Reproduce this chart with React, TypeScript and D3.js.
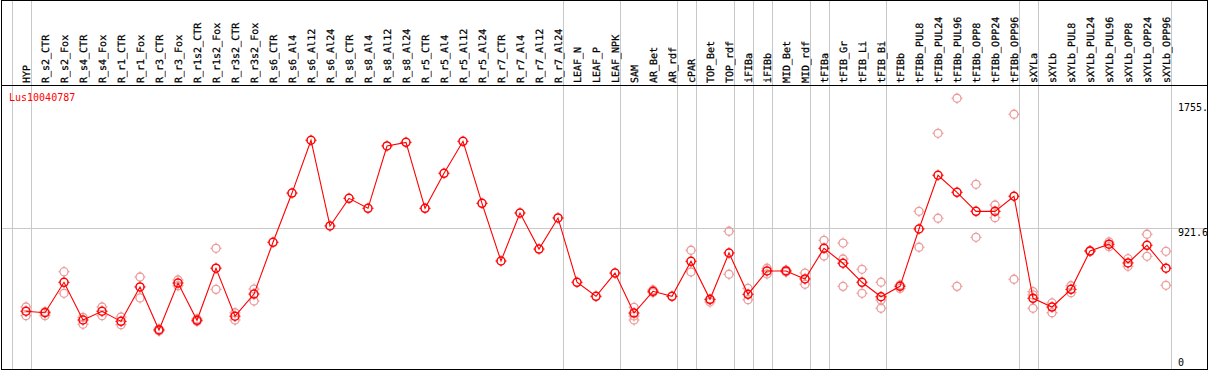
import React from "react";
import * as d3 from "d3";

const categories: string[] = [
  "HYP", "R_s2_CTR", "R_s2_Fox", "R_s4_CTR", "R_s4_Fox", "R_r1_CTR", "R_r1_Fox", "R_r3_CTR", "R_r3_Fox",
  "R_r1s2_CTR", "R_r1s2_Fox", "R_r3s2_CTR", "R_r3s2_Fox",
  "R_s6_CTR", "R_s6_Al4", "R_s6_Al12", "R_s6_Al24", "R_s8_CTR", "R_s8_Al4", "R_s8_Al12", "R_s8_Al24",
  "R_r5_CTR", "R_r5_Al4", "R_r5_Al12", "R_r5_Al24", "R_r7_CTR", "R_r7_Al4", "R_r7_Al12", "R_r7_Al24",
  "LEAF_N", "LEAF_P", "LEAF_NPK", "SAM", "AR_Bet", "AR_rdf", "cPAR", "TOP_Bet", "TOP_rdf", "iFIBa", "iFIBb",
  "MID_Bet", "MID_rdf", "tFIBa", "tFIB_Gr", "tFIB_Li", "tFIB_Bi", "tFIBb",
  "tFIBb_PUL8", "tFIBb_PUL24", "tFIBb_PUL96", "tFIBb_OPP8", "tFIBb_OPP24", "tFIBb_OPP96",
  "sXYLa", "sXYLb", "sXYLb_PUL8", "sXYLb_PUL24", "sXYLb_PUL96", "sXYLb_OPP8", "sXYLb_OPP24", "sXYLb_OPP96",
];

const meanValues: number[] = [
  372, 362, 564, 314, 372, 305, 533, 248, 559, 312, 657, 339, 486,
  829, 1155, 1505, 937, 1120, 1054, 1467, 1491, 1054, 1286, 1498, 1087, 705, 1023, 784, 990,
  564, 471, 625, 360, 504, 471, 703, 451, 758, 484, 639,
  639, 586, 789, 690, 564, 468, 537,
  917, 1273, 1160, 1034, 1034, 1134,
  458, 400, 517, 771, 816, 692, 809, 657,
];

const replicateValues: number[][] = [
  [400, 343], [343, 370], [634, 491], [332, 286], [400, 343], [334, 283], [599, 460], [254, 241], [579, 541],
  [321, 304], [789, 517], [362, 314], [519, 440],
  [], [], [], [], [], [], [], [], [], [], [], [], [], [], [], [],
  [], [], [], [398, 341, 314], [513, 496], [], [776, 632], [433, 447], [902, 617], [524, 449], [657, 619],
  [645, 632], [625, 551], [842, 738], [824, 718, 537], [650, 491], [564, 447, 392], [523, 546],
  [1034, 796], [1551, 988], [1783, 537], [1213, 862], [1076, 992], [1677, 584],
  [502, 392, 480], [427, 362], [541, 495], [774, 768], [831, 800], [720, 670], [882, 736], [769, 544],
];

// group separators: drawn after these categories ("" = before first)
const separatorsAfter: string[] = [
  "", "HYP", "R_r7_Al24", "LEAF_NPK", "AR_rdf", "cPAR", "TOP_rdf", "iFIBa", "iFIBb", "MID_rdf", "tFIBa",
  "tFIB_Bi", "tFIBb_OPP96", "sXYLa", "sXYLb_OPP96",
];

const yTickValues: number[] = [0, 921.6, 1755];
const yTickLabels: string[] = ["0", "921.6", "1755."];
const gridValues: number[] = [921.6];
const geneName = "Lus10040787";

const W = 1209;
const H = 370;
const FONT = "'DejaVu Sans Mono', monospace";

function Marker({ x, y, color, sw }: { x: number; y: number; color: string; sw: number }) {
  const r = 4;
  const t = 5.6;
  return (
    <g transform={`translate(${x},${y})`}>
      <circle r={r} fill="none" stroke={color} strokeWidth={sw} />
      <line x1={0} y1={-r} x2={0} y2={-t} stroke={color} strokeWidth={1} />
      <line x1={0} y1={r} x2={0} y2={t} stroke={color} strokeWidth={1} />
      <line x1={-r} y1={0} x2={-t} y2={0} stroke={color} strokeWidth={1} />
      <line x1={r} y1={0} x2={t} y2={0} stroke={color} strokeWidth={1} />
    </g>
  );
}

export default function App() {
  const x = d3.scalePoint<string>().domain(categories).range([26, 1166]);
  const step = x.step();
  const y = d3.scaleLinear().domain([0, 1755]).range([367.4, 102.5]);

  const linePath = d3
    .line<number>()
    .x((_, i) => x(categories[i]) as number)
    .y((d) => y(d))(meanValues) as string;

  const sepX = (name: string) =>
    name === "" ? (x(categories[0]) as number) - step + 4.5 : (x(name) as number) + 4.5;

  return (
    <svg
      width={W}
      height={H}
      style={{ position: "absolute", left: 0, top: 0, background: "#fff" }}
    >
      <defs>
        <clipPath id="clipAll">
          <rect x={1} y={0} width={1206} height={369} />
        </clipPath>
      </defs>
      <rect x={0} y={0} width={W} height={H} fill="#fff" />
      <g clipPath="url(#clipAll)">
        {separatorsAfter.map((s, i) => {
          const sx = Math.round(sepX(s)) + 0.5;
          return <line key={i} x1={sx} x2={sx} y1={0} y2={369} stroke="#c8c8c8" strokeWidth={1} />;
        })}
        {gridValues.map((g, i) => {
          const gy = Math.round(y(g)) + 0.5;
          return <line key={i} x1={1} x2={1207} y1={gy} y2={gy} stroke="#c8c8c8" strokeWidth={1} />;
        })}
        {categories.map((c) => (
          <text
            key={c}
            transform={`translate(${Math.round(x(c) as number) + 4},83) rotate(-90)`}
            fontFamily={FONT}
            fontSize={10}
            fill="#000"
            stroke="#000"
            strokeWidth={0.25}
            textRendering="geometricPrecision"
          >
            {c}
          </text>
        ))}
        <text x={9} y={101} fontFamily={FONT} fontSize={10} fill="#ff0000">
          {geneName}
        </text>
        {yTickValues.map((v, i) => {
          const yy = y(v);
          const base = yy + 8 > 366 ? yy - 1.4 : yy + 8;
          return (
            <text key={i} x={1178} y={base} fontFamily={FONT} fontSize={10} fill="#000">
              {yTickLabels[i]}
            </text>
          );
        })}
        {replicateValues.map((reps, i) =>
          reps.map((v, j) => (
            <Marker key={`${i}-${j}`} x={x(categories[i]) as number} y={y(v)} color="#ec9a9a" sw={1.3} />
          ))
        )}
        <path d={linePath} fill="none" stroke="#ff0000" strokeWidth={1.1} />
        {meanValues.map((v, i) => (
          <Marker key={i} x={x(categories[i]) as number} y={y(v)} color="#ff0000" sw={1.5} />
        ))}
      </g>
      <rect x={1.5} y={0.5} width={1206} height={369} fill="none" stroke="#000" strokeWidth={1} />
      <line x1={1} x2={1208} y1={85.5} y2={85.5} stroke="#000" strokeWidth={1} />
    </svg>
  );
}
